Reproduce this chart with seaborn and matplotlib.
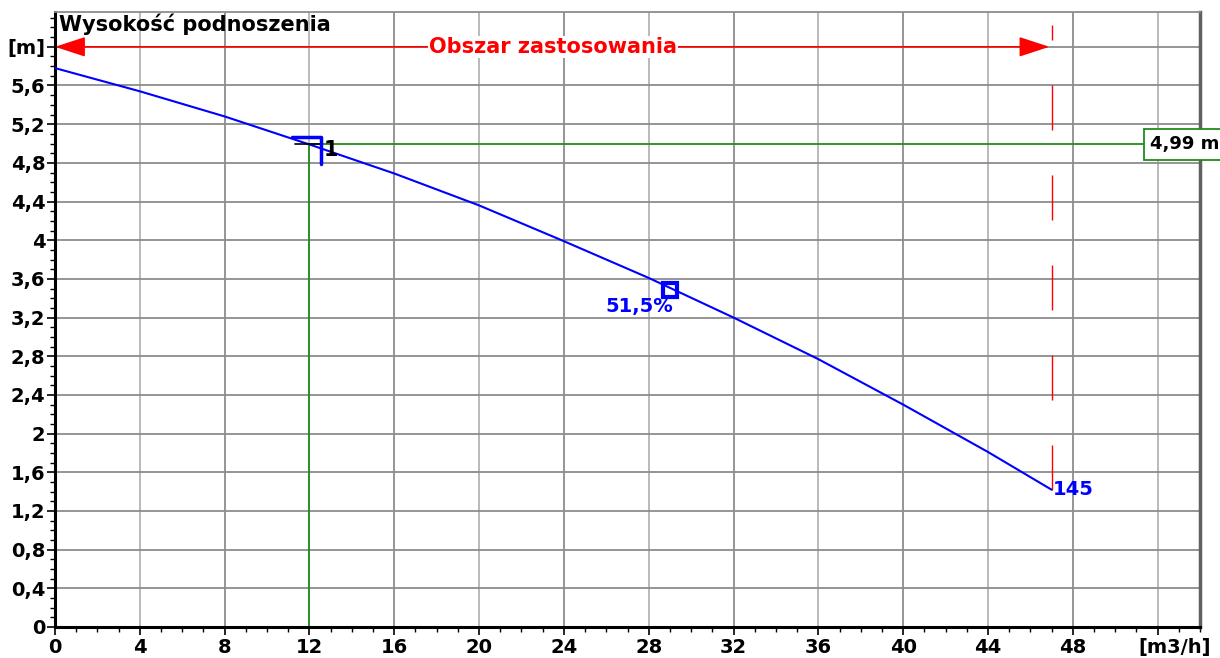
import numpy as np
import pandas as pd
import matplotlib
matplotlib.use("Agg")
import matplotlib.pyplot as plt
import matplotlib.transforms as mtransforms
from matplotlib.ticker import MultipleLocator, FixedLocator, FixedFormatter
import seaborn as sns

# pump curve H(Q)
flow = [0, 4, 8, 12, 16, 20, 24, 28, 32, 36, 40, 44, 47]
head = [5.78, 5.54, 5.28, 4.99, 4.69, 4.36, 3.99, 3.61, 3.20, 2.77, 2.30, 1.81, 1.42]
curve_label = "145"

# operating point
op_flow = 12
op_head = 4.99
op_label = "1"
op_text = "4,99 m"

# best efficiency point
eff_flow = 29.0
eff_head = 3.49
eff_text = "51,5%"

# application range
range_start = 0
range_end = 47
range_text = "Obszar zastosowania"

title = "Wysokość podnoszenia"
x_ticks = [0, 4, 8, 12, 16, 20, 24, 28, 32, 36, 40, 44, 48, 52]
x_labels = ["0", "4", "8", "12", "16", "20", "24", "28", "32", "36", "40", "44", "48", "[m3/h]"]
y_ticks = [0, 0.4, 0.8, 1.2, 1.6, 2.0, 2.4, 2.8, 3.2, 3.6, 4.0, 4.4, 4.8, 5.2, 5.6, 6.0]
y_labels = ["0", "0,4", "0,8", "1,2", "1,6", "2", "2,4", "2,8", "3,2", "3,6", "4", "4,4",
            "4,8", "5,2", "5,6", "[m]"]

sns.set_style("white")
plt.rcParams["font.family"] = ["DejaVu Sans"]
plt.rcParams["font.weight"] = "bold"

fig = plt.figure(figsize=(12.2, 6.58), dpi=100)
ax = fig.add_axes([55 / 1220, 1 - 627 / 658, 1145 / 1220, 615 / 658])
ax.set_xlim(0, 54)
ax.set_ylim(0, 6.36)

# grid
for v in x_ticks:
    ax.axvline(v, color="#8c8c8c" if v % 8 == 0 else "#b4b4b4", lw=1.3, zorder=0)
for v in y_ticks:
    ax.axhline(v, color="#8c8c8c", lw=1.3, zorder=0)

# operating point lines
green = "#1f8c1f"
ax.plot([op_flow, op_flow], [0, op_head], color=green, lw=1.3, zorder=2)
ax.plot([op_flow, 60], [op_head, op_head], color=green, lw=1.3, zorder=2)

# application range: dashed limit and arrow
ax.plot([range_end, range_end], [head[-1], 6.23], color="red", lw=1.0,
        linestyle=(0, (32.4, 32.4)), zorder=3)
ax.annotate("", xy=(range_end - 0.1, 6.0), xytext=(range_start, 6.0),
            arrowprops=dict(arrowstyle="<|-|>,head_length=1.9,head_width=0.62",
                            color="red", lw=1.2, mutation_scale=10,
                            shrinkA=0, shrinkB=0), zorder=4)
ax.text((range_start + range_end) / 2, 6.0, range_text, color="red", fontsize=15,
        fontweight="bold", ha="center", va="center", zorder=5,
        bbox=dict(boxstyle="square,pad=0.05", fc="white", ec="none"))

# pump curve
df = pd.DataFrame({"Q": flow, "H": head})
sns.lineplot(data=df, x="Q", y="H", color="blue", lw=1.5, ax=ax, zorder=6)
ax.text(flow[-1] + 0.05, head[-1], curve_label, color="blue", fontsize=14,
        fontweight="bold", ha="left", va="center", zorder=7)

# operating point marker
ax.plot([op_flow - 0.7, op_flow + 0.6], [op_head, op_head], color="black", lw=1.2, zorder=7)
ax.plot([op_flow - 0.8, op_flow + 0.55, op_flow + 0.55],
        [op_head + 0.08, op_head + 0.08, op_head - 0.2], color="blue", lw=2.5, zorder=8)
ax.text(op_flow + 0.65, op_head - 0.06, op_label, color="black", fontsize=15,
        fontweight="bold", ha="left", va="center", zorder=8)
ax.text(51.65, op_head, op_text, color="black", fontsize=13, fontweight="bold",
        ha="left", va="center", zorder=9, clip_on=False,
        bbox=dict(boxstyle="square,pad=0.35", fc="white", ec=green, lw=1.3))

# efficiency point
ax.plot([eff_flow], [eff_head], marker="s", ms=10.5, mfc="none", mec="blue", mew=3,
        zorder=8)
ax.text(eff_flow + 0.15, eff_head - 0.08, eff_text, color="blue", fontsize=14,
        fontweight="bold", ha="right", va="top", zorder=8)

# title inside the plot
ax.text(0.2, 6.34, title, color="black", fontsize=15, fontweight="bold",
        ha="left", va="top", zorder=9)

# ticks
ax.xaxis.set_major_locator(FixedLocator(x_ticks))
ax.xaxis.set_major_formatter(FixedFormatter(x_labels))
ax.xaxis.set_minor_locator(MultipleLocator(1))
ax.yaxis.set_major_locator(FixedLocator(y_ticks))
ax.yaxis.set_major_formatter(FixedFormatter(y_labels))
ax.yaxis.set_minor_locator(MultipleLocator(0.1))
ax.tick_params(which="major", direction="out", length=5.8, width=1.2, color="black",
               labelsize=14, labelcolor="black", bottom=True, left=True)
ax.tick_params(axis="y", which="major", pad=1)
ax.tick_params(axis="x", which="major", pad=2)
ax.tick_params(which="minor", direction="out", length=3.6, width=1.0, color="black",
               bottom=True, left=True)
for lab in ax.get_xticklabels() + ax.get_yticklabels():
    lab.set_fontweight("bold")

# unit label on the x axis sits a bit right of its tick
unit_lab = ax.get_xticklabels()[-1]
unit_lab.set_transform(unit_lab.get_transform()
                       + mtransforms.ScaledTranslation(0.17, 0, fig.dpi_scale_trans))
ax.set_xlabel("")
ax.set_ylabel("")

for side in ["left", "bottom"]:
    ax.spines[side].set_color("black")
    ax.spines[side].set_linewidth(2.2)
ax.spines["top"].set_color("#8c8c8c")
ax.spines["top"].set_linewidth(1.3)
ax.spines["right"].set_color("#606060")
ax.spines["right"].set_linewidth(2.5)

fig.savefig("out.png", dpi=100)
